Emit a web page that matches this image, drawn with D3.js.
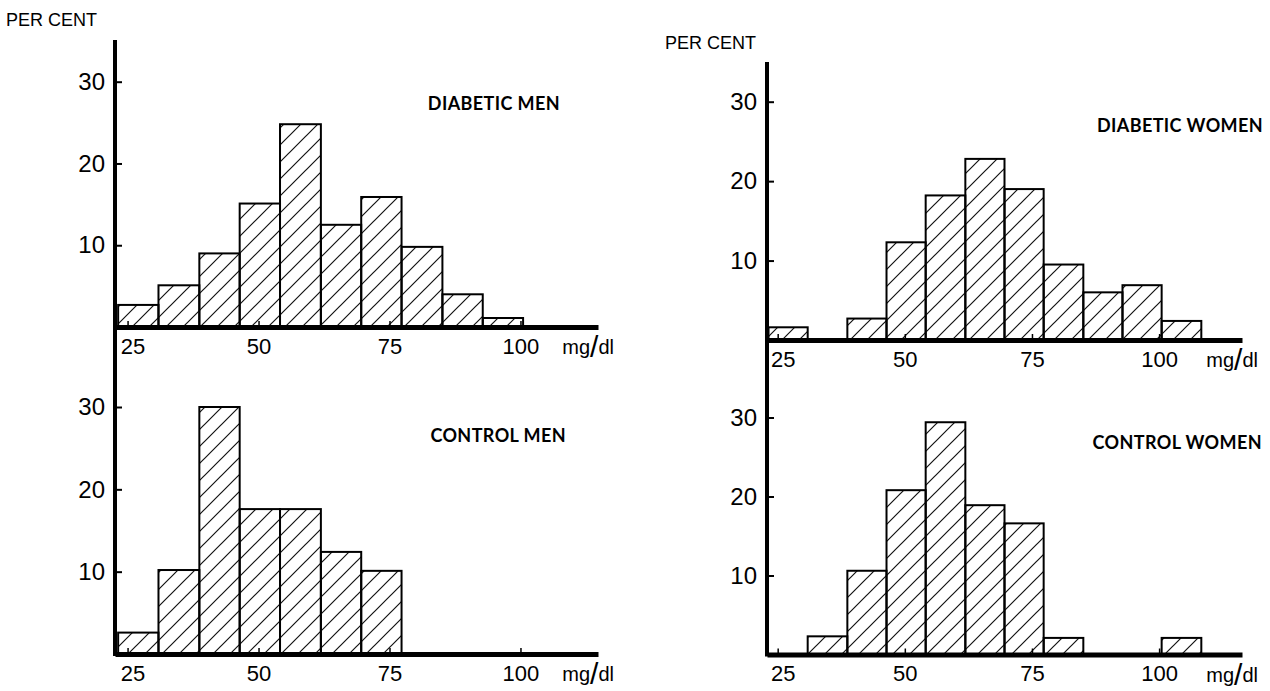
<!DOCTYPE html>
<html>
<head>
<meta charset="utf-8">
<script src="https://cdn.jsdelivr.net/npm/d3@7"></script>
<style>
	body { margin: 0; background: #fff; }
	svg { display: block; }
</style>
</head>
<body>
<div id="chart"></div>
<script>
// bin edges in mg/dl (bins are 0.2 mmol/l wide)
const binEdges = [23.2, 30.9, 38.7, 46.4, 54.1, 61.9, 69.6, 77.3, 85.1, 92.8, 100.5, 108.3]

// per cent of subjects in each bin
const diabeticMen = [2.7, 5.1, 9.0, 15.1, 24.8, 12.5, 15.9, 9.8, 4.0, 1.1, 0]
const controlMen = [2.6, 10.2, 30.0, 17.6, 17.6, 12.4, 10.1, 0, 0, 0, 0]
const diabeticWomen = [1.6, 0, 2.7, 12.3, 18.2, 22.8, 19.0, 9.5, 6.0, 6.9, 2.4]
const controlWomen = [0, 2.3, 10.6, 20.8, 29.4, 18.9, 16.6, 2.1, 0, 0, 2.1]

const titles = ['DIABETIC MEN', 'CONTROL MEN', 'DIABETIC WOMEN', 'CONTROL WOMEN']
const xTicks = [25, 50, 75, 100]
const yTicks = [10, 20, 30]
const unitLabel = 'mg/dl'
const axisTitle = 'PER CENT'

const width = 1270
const height = 691

const numFont = "'Liberation Sans', Arial, sans-serif"
const titleFont = "Lato, 'Open Sans', sans-serif"

// layout for the four panels (two columns)
const columns = [
	{ x0: 115, x1: 598, domain: [22.6, 114.8], axisTop: 40, label: { x: 6, y: 26 } },
	{ x0: 767, x1: 1242, domain: [22.9, 116.3], axisTop: 62, label: { x: 665, y: 49 } }
]

const panels = [
	{ col: 0, values: diabeticMen, title: titles[0], base: 327, y30: 81.7, titleX: 560, titleY: 110 },
	{ col: 0, values: controlMen, title: titles[1], base: 654, y30: 407, titleX: 566, titleY: 442 },
	{ col: 1, values: diabeticWomen, title: titles[2], base: 340, y30: 101.7, titleX: 1263, titleY: 132 },
	{ col: 1, values: controlWomen, title: titles[3], base: 654.5, y30: 417.5, titleX: 1262, titleY: 449 }
]

const svg = d3.select('#chart')
	.append('svg')
	.attr('width', width)
	.attr('height', height)

svg.append('rect')
	.attr('width', width)
	.attr('height', height)
	.attr('fill', '#fff')

// diagonal hatching used to fill the bars
const pattern = svg.append('defs')
	.append('pattern')
	.attr('id', 'hatch')
	.attr('patternUnits', 'userSpaceOnUse')
	.attr('width', 17)
	.attr('height', 17)

pattern.append('path')
	.attr('d', 'M-4,4 L4,-4 M0,17 L17,0 M13,21 L21,13')
	.attr('stroke', '#111')
	.attr('stroke-width', 1.2)

panels.forEach(p => {
	const c = columns[p.col]

	const x = d3.scaleLinear()
		.domain(c.domain)
		.range([c.x0, c.x1])

	const y = d3.scaleLinear()
		.domain([0, 30])
		.range([p.base, p.y30])

	const bins = p.values
		.map((v, i) => ({ x0: binEdges[i], x1: binEdges[i + 1], value: v }))
		.filter(d => d.value > 0)

	const g = svg.append('g')

	g.selectAll('rect.bar')
		.data(bins)
		.join('rect')
		.attr('class', 'bar')
		.attr('x', d => x(d.x0))
		.attr('y', d => y(d.value))
		.attr('width', d => x(d.x1) - x(d.x0))
		.attr('height', d => y(0) - y(d.value))
		.attr('fill', 'url(#hatch)')
		.attr('stroke', '#000')
		.attr('stroke-width', 2)

	// x axis with small inward ticks
	const xAxis = g.append('g')
		.attr('transform', `translate(0,${p.base})`)
		.call(d3.axisBottom(x).tickValues(xTicks).tickSizeInner(-6).tickSizeOuter(0).tickPadding(11))

	xAxis.select('.domain')
		.attr('stroke', '#000')
		.attr('stroke-width', 5)
	xAxis.selectAll('.tick line')
		.attr('stroke-width', 1.5)
	xAxis.selectAll('.tick text')
		.attr('font-family', numFont)
		.attr('font-size', 22)
		.attr('fill', '#000')
		.attr('dx', d => d == 25 ? 5 : 0)

	// unit label with a tall slash
	const unit = g.append('text')
		.attr('x', c.x1 + 16)
		.attr('y', p.base + 27)
		.attr('text-anchor', 'end')
		.attr('font-family', numFont)
		.attr('font-size', 20)
	const parts = unitLabel.split('/')
	unit.append('tspan').text(parts[0])
	unit.append('tspan').attr('font-size', 30).attr('dy', 3).text('/')
	unit.append('tspan').attr('dy', -3).text(parts[1])

	// y axis ticks point into the plot
	const yAxis = g.append('g')
		.attr('transform', `translate(${c.x0},0)`)
		.call(d3.axisLeft(y).tickValues(yTicks).tickSizeInner(-7).tickSizeOuter(0).tickPadding(10))

	yAxis.select('.domain').remove()
	yAxis.selectAll('.tick line')
		.attr('stroke-width', 2)
	yAxis.selectAll('.tick text')
		.attr('font-family', numFont)
		.attr('font-size', 24)
		.attr('fill', '#000')

	g.append('text')
		.attr('x', p.titleX)
		.attr('y', p.titleY)
		.attr('text-anchor', 'end')
		.attr('font-family', titleFont)
		.attr('font-weight', 700)
		.attr('font-size', 18)
		.attr('letter-spacing', 0.4)
		.text(p.title)
})

// one continuous vertical axis per column
columns.forEach((c, i) => {
	const bottom = d3.max(panels.filter(p => p.col == i), p => p.base) + 2
	svg.append('line')
		.attr('x1', c.x0)
		.attr('x2', c.x0)
		.attr('y1', c.axisTop)
		.attr('y2', bottom)
		.attr('stroke', '#000')
		.attr('stroke-width', 4)

	svg.append('text')
		.attr('x', c.label.x)
		.attr('y', c.label.y)
		.attr('font-family', numFont)
		.attr('font-size', 18)
		.text(axisTitle)
})
</script>
</body>
</html>
